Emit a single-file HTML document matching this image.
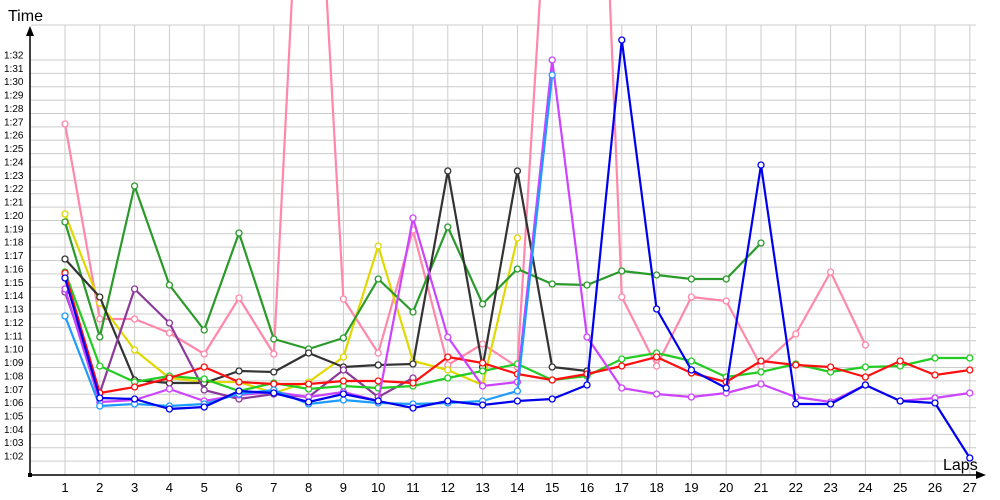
<!DOCTYPE html>
<html><head><style>body{margin:0;background:#fff}svg{display:block}</style></head><body>
<svg width="1000" height="500" xmlns="http://www.w3.org/2000/svg" font-family="Liberation Sans, sans-serif">
<g id="grid" stroke="#cccccc" stroke-width="1"></g>
<g id="ylab" font-size="10" fill="#000"></g>
<g id="xlab" font-size="13" fill="#000" text-anchor="middle"></g>
<line x1="30" y1="475" x2="30" y2="36" stroke="#000" stroke-width="1.5"/>
<polygon points="30,26 26,36 34,36" fill="#000"/>
<line x1="29" y1="475" x2="978" y2="475" stroke="#000" stroke-width="1.5"/>
<polygon points="986,475 976,471 976,479" fill="#000"/>
<rect x="28" y="473" width="4" height="4" fill="#000"/>
<text x="8" y="21" font-size="16">Time</text>
<text x="943" y="470" font-size="16">Laps</text>
<g id="series" fill="none" stroke-width="2.2" stroke-linejoin="round"></g>
<script>
var NS="http://www.w3.org/2000/svg";
function el(p,t,a,txt){var e=document.createElementNS(NS,t);for(var k in a)e.setAttribute(k,a[k]);if(txt)e.textContent=txt;p.appendChild(e);return e;}
var g=document.getElementById('grid'),yl=document.getElementById('ylab'),xl=document.getElementById('xlab');
function X(i){return 65+34.8*(i-1);}
for(var i=1;i<=27;i++){el(g,'line',{x1:X(i),y1:25,x2:X(i),y2:475});el(xl,'text',{x:X(i),y:492},String(i));}
for(var k=0;k<=30;k++){var y=60+k*13.37;el(g,'line',{x1:31,y1:y,x2:976,y2:y});var s=32-k;el(yl,'text',{x:4,y:y-1.5},'1:'+(s<10?'0':'')+s);}
el(g,'line',{x1:31,y1:25,x2:976,y2:25});
var S=[
['#ff88aa',[124,319,319,333,354,298,354,-330,299,353,230,365,344,367,-203,-573,297,366,297,301,366,334,272,345],[8,15,16]],
['#e0d800',[214,303,350,378,382,382,393,382,357,246,361,370,385,238]],
['#2a9a2a',[222,337,186,285,330,233,339,349,338,279,312,227,304,269,284,285,271,275,279,279,243]],
['#333333',[259,297,380,383,383,371,372,353,367,365,364,171,367,171,367,371]],
['#8b3a9a',[292,393,289,323,390,399,394,397,370,397,378]],
['#22cc22',[272,366,382,376,379,391,383,389,386,388,386,378,371,364,380,376,359,353,361,377,372,364,372,367,366,358,358]],
['#ff1010',[273,393,387,378,367,382,384,384,381,381,383,357,363,374,380,374,366,357,373,382,361,365,367,377,361,375,370]],
['#cc44ff',[289,402,400,389,401,395,392,397,392,401,218,337,386,382,60,337,388,394,397,393,384,397,402,385,401,398,393]],
['#1e9bff',[316,406,404,406,404,394,390,404,400,403,404,403,401,391,75]],
['#0000ee',[278,398,399,409,407,391,393,402,394,401,408,401,405,401,399,385,40,309,370,388,165,404,404,385,401,403,458]]
];
var sg=document.getElementById('series');
S.forEach(function(s){var pts=s[1].map(function(v,j){return X(j+1)+','+v;}).join(' ');
el(sg,'polyline',{points:pts,stroke:s[0]});
s[1].forEach(function(v,j){if(s[2]&&s[2].indexOf(j+1)>=0)return;el(sg,'circle',{cx:X(j+1),cy:v,r:3,fill:'#fff',stroke:s[0],'stroke-width':1.3});});});
</script>
</svg>
</body></html>
